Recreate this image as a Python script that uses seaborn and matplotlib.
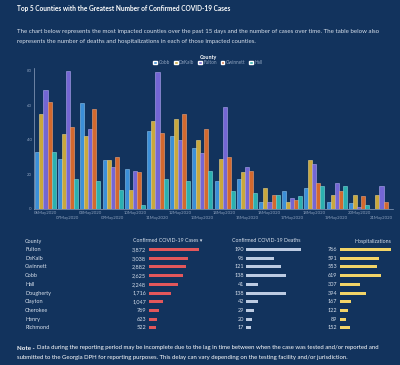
import numpy as np
import pandas as pd
import seaborn as sns
import matplotlib.pyplot as plt

# ---------------------------------------------------------------
# Dados
# ---------------------------------------------------------------
dates = ["06May2020", "07May2020", "08May2020", "09May2020", "10May2020",
         "11May2020", "12May2020", "13May2020", "14May2020", "15May2020",
         "16May2020", "17May2020", "18May2020", "19May2020", "20May2020",
         "21May2020"]
counties = ["Cobb", "DeKalb", "Fulton", "Gwinnett", "Hall"]
cobb = [33, 29, 61, 28, 23, 45, 42, 35, 16, 17, 4, 10, 12, 4, 3, 0]
dekalb = [55, 43, 42, 28, 11, 51, 52, 40, 29, 21, 12, 4, 28, 8, 8, 8]
fulton = [69, 80, 46, 24, 22, 79, 40, 32, 59, 24, 4, 6, 26, 15, 1, 13]
gwinnett = [62, 47, 58, 30, 21, 44, 55, 46, 30, 22, 8, 5, 15, 10, 7, 4]
hall = [33, 17, 16, 11, 2, 17, 16, 22, 10, 9, 8, 7, 13, 13, 2, 0]

table_counties = ["Fulton", "DeKalb", "Gwinnett", "Cobb", "Hall", "Dougherty",
                  "Clayton", "Cherokee", "Henry", "Richmond"]
table_cases = [3872, 3038, 2882, 2625, 2248, 1716, 1047, 769, 623, 522]
table_deaths = [190, 96, 121, 138, 41, 138, 42, 29, 20, 17]
table_hosp = [766, 591, 553, 619, 307, 394, 167, 122, 89, 152]

# ---------------------------------------------------------------
# Estilo
# ---------------------------------------------------------------
W, H = 400, 365
BG = "#12335d"
TXT = "#d6dfeb"
AX = "#8fa3bf"
palette = {"Cobb": "#3b8fd8", "DeKalb": "#c9a83c", "Fulton": "#7466d4",
           "Gwinnett": "#d4692e", "Hall": "#2bb0b0"}
edges = {"Cobb": "#8cc4f0", "DeKalb": "#ecd58a", "Fulton": "#b0a8f0",
         "Gwinnett": "#f0a67a", "Hall": "#7fdcdc"}

sns.set_style("dark")
plt.rcParams["font.family"] = ["Lato", "DejaVu Sans"]

fig = plt.figure(figsize=(W / 100, H / 100), dpi=100, facecolor=BG)


def fx(x):
    return x / W


def fy(y):
    return 1 - y / H


def box(x0, y0, x1, y1):
    return [fx(x0), fy(y1), fx(x1) - fx(x0), fy(y0) - fy(y1)]


# ---------------------------------------------------------------
# Textos de cabeçalho
# ---------------------------------------------------------------
fig.text(fx(17), fy(8), "Top 5 Counties with the Greatest Number of Confirmed COVID-19 Cases",
         color="white", fontsize=4.7, fontweight="bold", va="center")
fig.text(fx(17), fy(32), "The chart below represents the most impacted counties over the past 15 days "
         "and the number of cases over time. The table below also",
         color=TXT, fontsize=4.4, va="center")
fig.text(fx(17), fy(41), "represents the number of deaths and hospitalizations in each of those impacted counties.",
         color=TXT, fontsize=4.4, va="center")

# ---------------------------------------------------------------
# Gráfico de barras
# ---------------------------------------------------------------
df = pd.DataFrame({"date": dates, "Cobb": cobb, "DeKalb": dekalb, "Fulton": fulton,
                   "Gwinnett": gwinnett, "Hall": hall})
df = df.melt(id_vars="date", var_name="County", value_name="cases")

ax = fig.add_axes(box(34.3, 68, 392.7, 208.5))
ax.set_facecolor(BG)
sns.barplot(data=df, x="date", y="cases", hue="County", hue_order=counties,
            palette=palette, width=0.9, ax=ax, saturation=1)
for cont, c in zip(ax.containers, counties):
    for p in cont:
        p.set_edgecolor(edges[c])
        p.set_linewidth(0.4)

ax.set_xlim(-0.5, len(dates) - 0.5)
ax.set_ylim(0, 81.5)
ax.set_yticks([0, 20, 40, 60, 80])
ax.set_xticks(range(len(dates)))
ax.set_xticklabels([d if i % 2 == 0 else "\n" + d for i, d in enumerate(dates)])
ax.tick_params(axis="both", colors=AX, labelsize=3.1, length=0, pad=2)
ax.set_xlabel("")
ax.set_ylabel("")
ax.grid(False)
for s in ["top", "right"]:
    ax.spines[s].set_visible(False)
for s in ["left", "bottom"]:
    ax.spines[s].set_visible(True)
    ax.spines[s].set_color(AX)
    ax.spines[s].set_linewidth(0.5)

handles, labels = ax.get_legend_handles_labels()
ax.get_legend().remove()
leg = fig.legend(handles, labels, loc="center", bbox_to_anchor=(fx(208), fy(60)),
                 ncol=5, frameon=False, fontsize=3.4, title="County",
                 title_fontsize=3.8, handlelength=0.8, handleheight=0.8,
                 handletextpad=0.3, columnspacing=0.8, borderpad=0, labelspacing=0)
leg.get_title().set_color("white")
leg.get_title().set_fontweight("bold")
for t in leg.get_texts():
    t.set_color(AX)

# ---------------------------------------------------------------
# Tabela
# ---------------------------------------------------------------
row_y = [249.5 + i * 8.72 for i in range(len(table_counties))]
fig.text(fx(25), fy(241), "County", color=TXT, fontsize=3.9, va="center")
fig.text(fx(133), fy(241), "Confirmed COVID-19 Cases \u25be", color=TXT, fontsize=3.8, va="center")
fig.text(fx(232), fy(241), "Confirmed COVID-19 Deaths", color=TXT, fontsize=3.8, va="center")
fig.text(fx(391), fy(241), "Hospitalizations", color=TXT, fontsize=3.8, va="center", ha="right")

cols = [
    (table_cases, 146, 149, 199, "#e2575b"),
    (table_deaths, 244, 246, 301, "#bccbe2"),
    (table_hosp, 337, 340, 391, "#f2d468"),
]
for vals, num_x, x0, x1, col in cols:
    tdf = pd.DataFrame({"county": table_counties, "v": vals})
    tax = fig.add_axes(box(x0, row_y[0] - 4.36, x1, row_y[-1] + 4.36))
    sns.barplot(data=tdf, y="county", x="v", orient="h", color=col, width=0.34,
                saturation=1, linewidth=0, ax=tax)
    tax.set_xlim(0, max(vals))
    tax.set_ylim(len(vals) - 0.5, -0.5)
    tax.axis("off")
    for i, v in enumerate(vals):
        fig.text(fx(num_x), fy(row_y[i]), f"{v:,}", color=TXT, fontsize=4.0,
                 va="center", ha="right")

for i, c in enumerate(table_counties):
    fig.text(fx(25), fy(row_y[i]), c, color=TXT, fontsize=4.0, va="center")

# ---------------------------------------------------------------
# Nota
# ---------------------------------------------------------------
fig.text(fx(17), fy(348), "Note -", color="white", fontsize=4.4, fontweight="bold", va="center")
fig.text(fx(37), fy(348), "Data during the reporting period may be incomplete due to the lag in time "
         "between when the case was tested and/or reported and",
         color="white", fontsize=4.35, va="center")
fig.text(fx(17), fy(357), "submitted to the Georgia DPH for reporting purposes. This delay can vary "
         "depending on the testing facility and/or jurisdiction.",
         color="white", fontsize=4.35, va="center")

fig.savefig("out.png", dpi=100, facecolor=BG)
